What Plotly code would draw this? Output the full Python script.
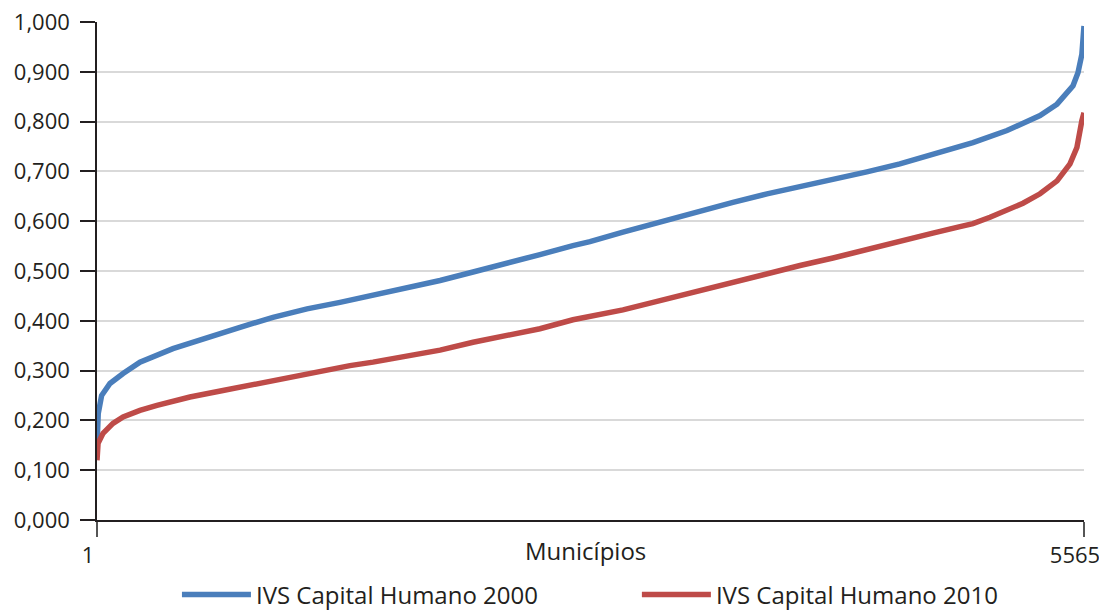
import plotly.graph_objects as go

# Municipality rank (x) and IVS Capital Humano values
x_2000 = [1, 8, 27, 74, 148, 243, 429, 621, 807, 993, 1185, 1371, 1557, 1749, 1935,
          2121, 2312, 2498, 2684, 2780, 2966, 3158, 3400, 3586, 3778, 3964, 4150,
          4341, 4527, 4713, 4866, 4939, 5131, 5221, 5317, 5413, 5503, 5531, 5553, 5565]
ivs_2000 = [0.150, 0.214, 0.250, 0.274, 0.294, 0.317, 0.344, 0.367, 0.387, 0.407,
            0.424, 0.437, 0.451, 0.467, 0.481, 0.498, 0.515, 0.533, 0.551, 0.559,
            0.578, 0.597, 0.621, 0.638, 0.655, 0.669, 0.685, 0.699, 0.715, 0.735,
            0.752, 0.758, 0.782, 0.796, 0.812, 0.835, 0.872, 0.898, 0.935, 0.992]

x_2010 = [1, 7, 35, 91, 148, 243, 339, 525, 711, 903, 1089, 1275, 1427, 1557, 1749,
          1935, 2121, 2312, 2498, 2684, 2837, 2966, 3158, 3400, 3586, 3778, 3964,
          4150, 4341, 4527, 4713, 4866, 4939, 5035, 5131, 5221, 5317, 5413, 5486,
          5525, 5553, 5565]
ivs_2010 = [0.120, 0.154, 0.174, 0.194, 0.207, 0.220, 0.230, 0.247, 0.260, 0.274,
            0.287, 0.300, 0.310, 0.317, 0.329, 0.341, 0.357, 0.371, 0.384, 0.402,
            0.412, 0.422, 0.439, 0.461, 0.476, 0.494, 0.511, 0.526, 0.542, 0.560,
            0.576, 0.589, 0.595, 0.608, 0.621, 0.636, 0.655, 0.681, 0.715, 0.748,
            0.802, 0.818]

y_ticks = [0, 0.1, 0.2, 0.3, 0.4, 0.5, 0.6, 0.7, 0.8, 0.9, 1.0]
x_ticks = [1, 5565]
x_ticklabels = ["1", "5565"]
names = ["IVS Capital Humano 2000", "IVS Capital Humano 2010"]
colors = ["#4A7EBB", "#BE4B48"]

FONT = "Open Sans"
TXT = "#231F20"

fig = go.Figure()
fig.add_trace(go.Scatter(x=x_2000, y=ivs_2000, mode="lines", name=names[0],
                         line=dict(color=colors[0], width=5.5), legend="legend"))
fig.add_trace(go.Scatter(x=x_2010, y=ivs_2010, mode="lines", name=names[1],
                         line=dict(color=colors[1], width=5.5), legend="legend2"))

leg_common = dict(orientation="h", yanchor="middle", y=-0.1506, xanchor="left",
                  font=dict(family=FONT, size=24, color=TXT), itemwidth=69,
                  bgcolor="rgba(0,0,0,0)", borderwidth=0)

# the page body adds an 8px offset, so the figure is sized 8px smaller each way
fig.update_layout(
    width=1099, height=603,
    margin=dict(l=89, r=23, t=14, b=91, autoexpand=False),
    paper_bgcolor="white", plot_bgcolor="white",
    separators=",.",
    font=dict(family=FONT, size=22, color=TXT),
    showlegend=True,
    legend=dict(x=0.081, **leg_common),
    legend2=dict(x=0.547, **leg_common),
    annotations=[dict(text="Municípios", xref="paper", yref="paper", x=0.495, y=-0.062,
                      xanchor="center", yanchor="middle", showarrow=False,
                      font=dict(family=FONT, size=24, color=TXT))],
)

fig.update_xaxes(range=[1, 5565], tickmode="array", tickvals=x_ticks, ticktext=x_ticklabels,
                 ticks="outside", ticklen=15, tickcolor="#555555", tickwidth=1.5,
                 showline=True, linecolor="#231F20", linewidth=1.5,
                 showgrid=True, gridcolor="#D9D9D9", gridwidth=1.5, zeroline=False,
                 ticklabelshift=-9, ticklabeloverflow="allow",
                 tickfont=dict(family=FONT, size=22, color=TXT))
fig.update_yaxes(range=[0, 1.0], tickmode="array", tickvals=y_ticks, tickformat=".3f",
                 ticks="outside", ticklen=15, tickcolor="#231F20", tickwidth=1.5,
                 showline=True, linecolor="#231F20", linewidth=1.5,
                 showgrid=True, gridcolor="#D9D9D9", gridwidth=1.5, zeroline=False,
                 ticklabelstandoff=6, ticklabeloverflow="allow",
                 tickfont=dict(family=FONT, size=22, color=TXT))

fig.write_html("out.html")
